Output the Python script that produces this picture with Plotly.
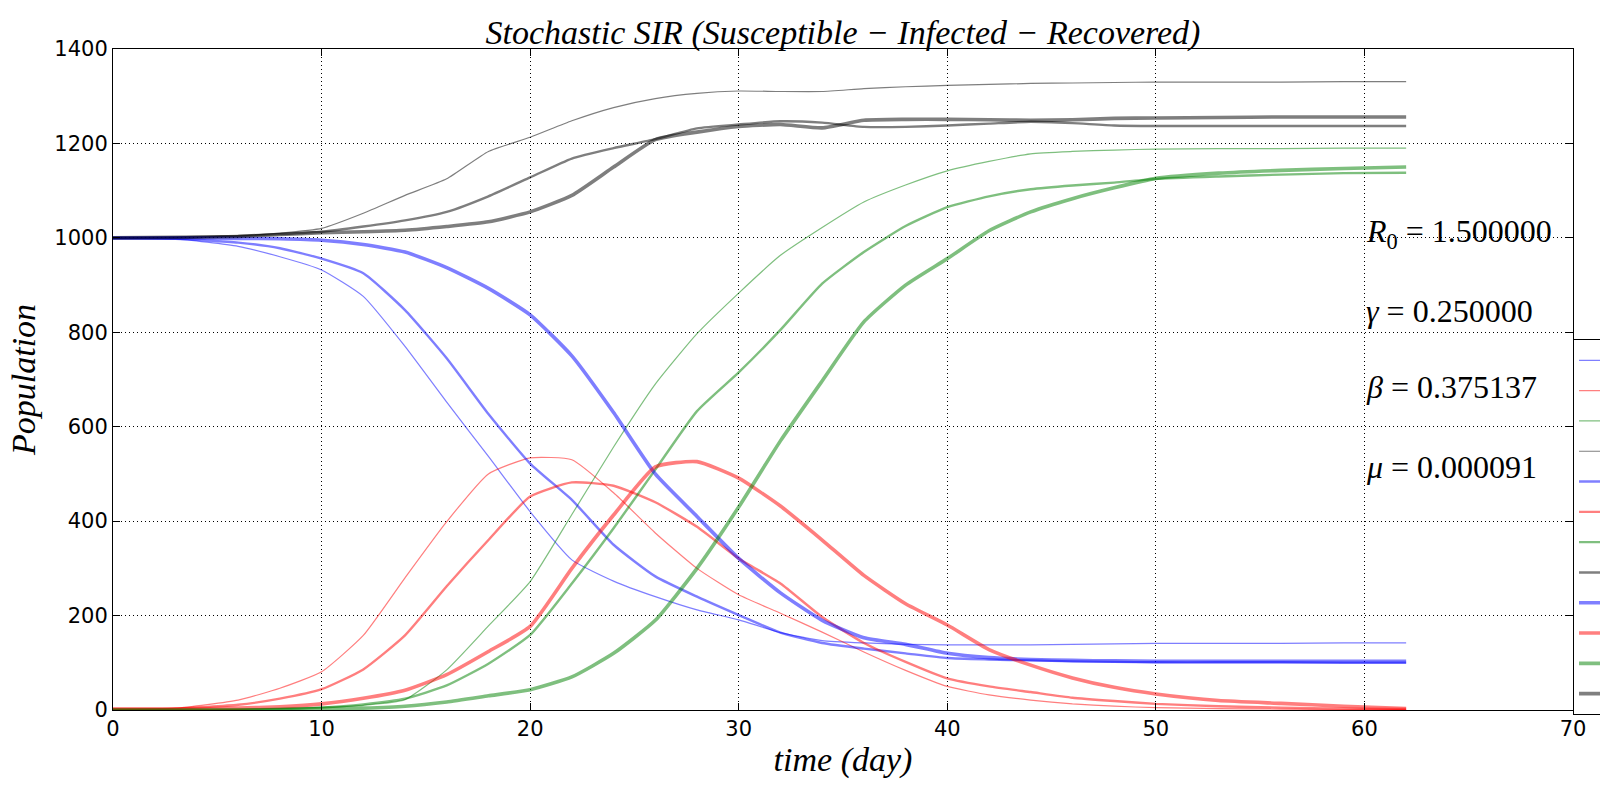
import plotly.graph_objects as go

# sample days
days = [0, 3, 6, 8, 10, 12, 14, 16, 18, 20, 22, 24, 26, 28, 30, 32, 34, 36, 38,
        40, 42, 44, 46, 48, 50, 53, 56, 59, 62]

# run 1 (thin lines)
S1 = [999, 998, 982, 960, 932, 876, 770, 652, 537, 420, 318, 273, 240, 212, 191,
      164, 147, 142, 139, 138, 138, 138, 139, 140, 141, 141, 141, 142, 142]
I1 = [2, 4, 21, 46, 81, 158, 280, 399, 500, 534, 530, 460, 375, 300, 244,
      205, 165, 123, 84, 50, 32, 21, 13, 8, 5, 3, 2, 1, 1]
R1 = [0, 0, 1, 3, 6, 10, 22, 85, 178, 272, 414, 557, 690, 797, 883,
      963, 1022, 1076, 1112, 1142, 1162, 1178, 1183, 1186, 1188, 1189, 1189, 1190, 1190]
N1 = [1000, 1001, 1004, 1010, 1020, 1052, 1090, 1125, 1183, 1213, 1248, 1276, 1295, 1306, 1311,
      1310, 1310, 1316, 1320, 1323, 1325, 1327, 1328, 1329, 1330, 1330, 1330, 1331, 1331]

# run 2 (medium lines)
S2 = [999, 998, 990, 978, 956, 925, 847, 745, 627, 522, 445, 350, 283, 240, 201,
      164, 142, 130, 120, 110, 107, 105, 103, 102, 101, 101, 101, 100, 100]
I2 = [2, 3, 11, 24, 44, 86, 158, 262, 360, 452, 482, 475, 440, 388, 321,
      268, 197, 142, 102, 67, 50, 38, 26, 19, 13, 8, 5, 3, 2]
R2 = [0, 0, 1, 2, 5, 12, 24, 52, 98, 159, 268, 385, 509, 633, 715,
      805, 903, 970, 1025, 1065, 1088, 1103, 1111, 1117, 1125, 1130, 1134, 1137, 1138]
N2 = [1000, 1001, 1004, 1008, 1013, 1024, 1037, 1055, 1088, 1128, 1168, 1190, 1209, 1232, 1240,
      1247, 1244, 1235, 1235, 1238, 1242, 1246, 1243, 1238, 1237, 1237, 1237, 1237, 1237]

# run 3 (thick lines)
S3 = [1000, 1000, 999, 998, 995, 986, 970, 937, 893, 837, 750, 630, 500, 410, 321,
      248, 190, 153, 139, 120, 111, 107, 105, 104, 103, 103, 103, 103, 103]
I3 = [2, 2, 4, 7, 13, 25, 42, 75, 124, 177, 300, 413, 515, 526, 491,
      432, 360, 285, 225, 180, 128, 95, 68, 48, 34, 20, 14, 8, 3]
R3 = [0, 0, 0, 1, 2, 4, 8, 17, 30, 43, 70, 120, 190, 300, 430,
      570, 697, 822, 900, 956, 1015, 1055, 1083, 1106, 1126, 1137, 1143, 1147, 1150]
N3 = [1000, 1001, 1003, 1007, 1011, 1013, 1016, 1024, 1034, 1055, 1090, 1150, 1208, 1224, 1236,
      1240, 1233, 1249, 1251, 1251, 1250, 1249, 1250, 1253, 1254, 1255, 1256, 1256, 1256]

runs = [(S1, I1, R1, N1), (S2, I2, R2, N2), (S3, I3, R3, N3)]
names = ["S", "I", "R", "N"]
colors = ["blue", "red", "green", "black"]
widths = [1.2, 2.4, 3.6]

params = ["<i>R</i><sub>0</sub> = 1.500000", "<i>γ</i> = 0.250000",
          "<i>β</i> = 0.375137", "<i>μ</i> = 0.000091"]
param_y = [1010, 845, 684, 515]

fig = go.Figure()
for k, run in enumerate(runs):
    for series, name, col in zip(run, names, colors):
        fig.add_trace(go.Scatter(
            x=days, y=series, mode="lines", name=f"{name} (run {k + 1})",
            line=dict(color=col, width=widths[k], shape="spline", smoothing=0.5),
            opacity=0.5))

for txt, yv in zip(params, param_y):
    fig.add_annotation(x=60, y=yv, xref="x", yref="y", text=txt, showarrow=False,
                       xanchor="left", yanchor="middle",
                       font=dict(family="Liberation Serif", size=32, color="black"))

axis_style = dict(showline=True, linecolor="black", linewidth=1, mirror="ticks",
                  ticks="inside", ticklen=7, tickcolor="black",
                  showgrid=True, gridcolor="black", griddash="1px,3px", gridwidth=1,
                  zeroline=False,
                  tickfont=dict(family="DejaVu Sans", size=21, color="black"))

fig.update_xaxes(range=[0, 70], dtick=10, **axis_style,
                 title=dict(text="<i>time (day)</i>", standoff=6,
                            font=dict(family="Liberation Serif", size=34, color="black")))
fig.update_yaxes(range=[0, 1400], dtick=200, **axis_style,
                 title=dict(text="<i>Population</i>", standoff=8,
                            font=dict(family="Liberation Serif", size=34, color="black")))

fig.update_layout(
    width=1600, height=800,
    margin=dict(l=113, r=27, t=49, b=90, autoexpand=False),
    plot_bgcolor="white", paper_bgcolor="white",
    title=dict(text="<i>Stochastic SIR (Susceptible − Infected − Recovered)</i>",
               x=0.5, xref="paper", xanchor="center", y=0.96, yanchor="middle",
               font=dict(family="Liberation Serif", size=34, color="black")),
    legend=dict(x=1.0, xanchor="left", y=0.561, yanchor="top",
                bordercolor="black", borderwidth=1, bgcolor="white",
                font=dict(family="DejaVu Sans", size=21, color="black")),
)

fig.write_html("out.html", config={"displayModeBar": False},
               post_script="document.body.style.margin='0';")
